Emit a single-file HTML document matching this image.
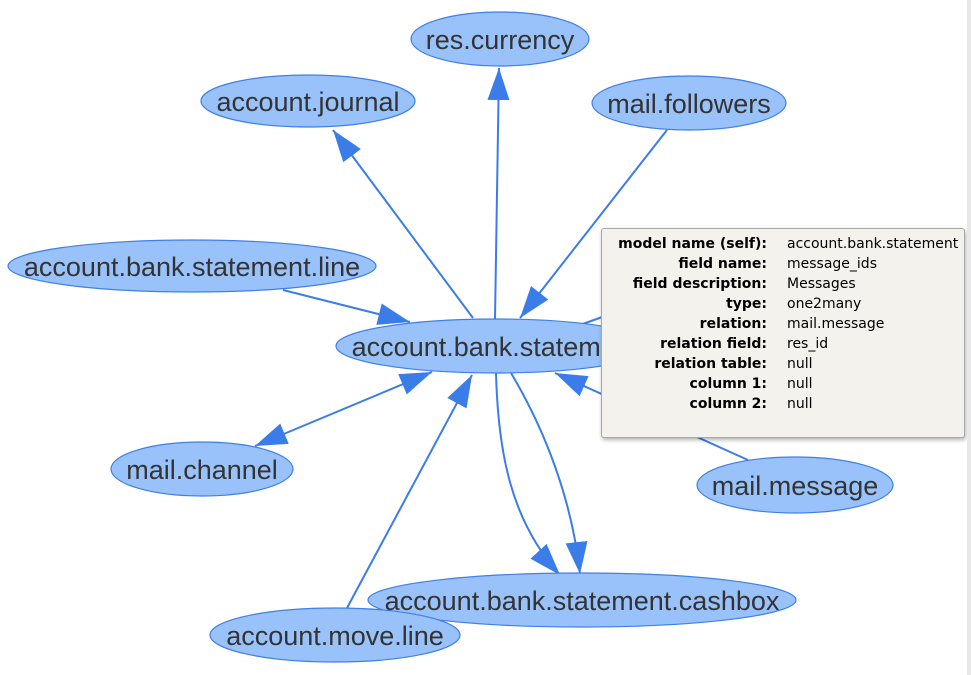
<!DOCTYPE html>
<html><head><meta charset="utf-8"><style>
body{margin:0;width:971px;height:675px;overflow:hidden;background:#fff;position:relative}
svg{position:absolute;left:0;top:0}
.tip{position:absolute;left:601px;top:228px;width:362px;height:208px;background:#f3f2ec;border:1px solid #a8a8a8;border-radius:3px;box-shadow:1px 2px 4px rgba(0,0,0,.3);font-family:"DejaVu Sans",sans-serif;font-size:14px;color:#000}
.tip table{border-collapse:collapse;position:absolute;left:0;top:5px}
.tip td{height:20px;padding:0;line-height:20px;white-space:nowrap}
.tip td.k{font-weight:bold;text-align:right;width:165px;padding-right:20px}
.sb{position:absolute;left:967px;top:0;width:4px;height:675px;background:#e8e8e8}
</style></head><body>
<svg width="971" height="675" viewBox="0 0 971 675">
<defs>
<marker id="a" markerUnits="userSpaceOnUse" markerWidth="34" markerHeight="22" refX="32" refY="11" orient="auto-start-reverse"><path d="M0,0 L32,11 L0,22 z" fill="#3b7de8"/></marker>
</defs>
<g stroke="#3b7de8" stroke-width="2" fill="none">
<line x1="495" y1="319" x2="499" y2="68" marker-end="url(#a)"/>
<line x1="473" y1="318" x2="333" y2="130" marker-end="url(#a)"/>
<line x1="667" y1="130" x2="520" y2="318" marker-end="url(#a)"/>
<line x1="283" y1="290" x2="410" y2="322" marker-end="url(#a)"/>
<line x1="432" y1="372" x2="255" y2="446" marker-start="url(#a)" marker-end="url(#a)"/>
<line x1="347" y1="608" x2="472" y2="375" marker-end="url(#a)"/>
<path d="M496,373 C498,450 510,520 560,575" marker-end="url(#a)"/>
<path d="M511,373 C545,430 572,500 580,574" marker-end="url(#a)"/>
<line x1="748" y1="460" x2="555" y2="373" marker-end="url(#a)"/>
<line x1="580" y1="325" x2="605" y2="316"/>
</g>
<g fill="#99c2fa" stroke="#3f7fe8" stroke-width="1.2">
<ellipse cx="500" cy="39" rx="89" ry="27"/>
<ellipse cx="308" cy="101" rx="107" ry="26"/>
<ellipse cx="689" cy="103" rx="97" ry="27"/>
<ellipse cx="192" cy="266" rx="184" ry="26"/>
<ellipse cx="495" cy="346" rx="159" ry="27"/>
<ellipse cx="202" cy="469" rx="91" ry="27"/>
<ellipse cx="795" cy="485" rx="98" ry="28"/>
<ellipse cx="582" cy="600" rx="214" ry="27"/>
<ellipse cx="335" cy="635" rx="125" ry="27"/>
</g>
<g font-family="Liberation Sans, Arial, sans-serif" font-size="27" fill="#333" text-anchor="middle">
<text x="500" y="49">res.currency</text>
<text x="308" y="111">account.journal</text>
<text x="689" y="113">mail.followers</text>
<text x="192" y="276">account.bank.statement.line</text>
<text x="495" y="356">account.bank.statement</text>
<text x="202" y="479">mail.channel</text>
<text x="795" y="495">mail.message</text>
<text x="582" y="610">account.bank.statement.cashbox</text>
<text x="335" y="645">account.move.line</text>
</g>
</svg>
<div class="tip"><table>
<tr><td class="k">model name (self):</td><td>account.bank.statement</td></tr>
<tr><td class="k">field name:</td><td>message_ids</td></tr>
<tr><td class="k">field description:</td><td>Messages</td></tr>
<tr><td class="k">type:</td><td>one2many</td></tr>
<tr><td class="k">relation:</td><td>mail.message</td></tr>
<tr><td class="k">relation field:</td><td>res_id</td></tr>
<tr><td class="k">relation table:</td><td>null</td></tr>
<tr><td class="k">column 1:</td><td>null</td></tr>
<tr><td class="k">column 2:</td><td>null</td></tr>
</table></div>
<div class="sb"></div>
</body></html>
